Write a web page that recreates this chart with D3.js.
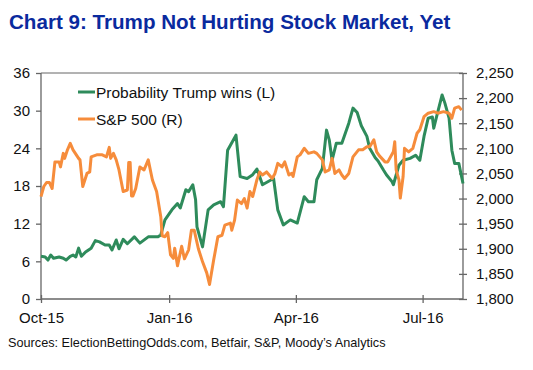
<!DOCTYPE html>
<html><head><meta charset="utf-8">
<script src="https://cdn.jsdelivr.net/npm/d3@7"></script>
<style>body{margin:0;background:#fff;} svg{display:block;font-family:Arial,"Liberation Sans",sans-serif;}</style>
</head><body>
<svg id="c" width="533" height="370"></svg>
<script>
const trumpDates = ["2015-10-01","2015-10-04","2015-10-06","2015-10-08","2015-10-10","2015-10-14","2015-10-17","2015-10-19","2015-10-22","2015-10-24","2015-10-26","2015-10-28","2015-10-30","2015-11-02","2015-11-06","2015-11-09","2015-11-12","2015-11-16","2015-11-19","2015-11-21","2015-11-24","2015-11-26","2015-11-29","2015-12-02","2015-12-07","2015-12-11","2015-12-17","2015-12-24","2015-12-26","2015-12-29","2016-01-03","2016-01-07","2016-01-09","2016-01-13","2016-01-15","2016-01-18","2016-01-20","2016-01-21","2016-01-25","2016-01-29","2016-02-02","2016-02-07","2016-02-09","2016-02-12","2016-02-14","2016-02-18","2016-02-21","2016-02-26","2016-03-01","2016-03-04","2016-03-06","2016-03-08","2016-03-16","2016-03-19","2016-03-23","2016-03-28","2016-04-02","2016-04-07","2016-04-10","2016-04-14","2016-04-16","2016-04-20","2016-04-23","2016-04-25","2016-04-27","2016-04-30","2016-05-04","2016-05-09","2016-05-12","2016-05-15","2016-05-18","2016-05-22","2016-05-24","2016-05-28","2016-05-30","2016-06-03","2016-06-05","2016-06-09","2016-06-10","2016-06-14","2016-06-17","2016-06-22","2016-06-26","2016-06-29","2016-07-02","2016-07-05","2016-07-08","2016-07-09","2016-07-11","2016-07-15","2016-07-17","2016-07-20","2016-07-22","2016-07-24","2016-07-27","2016-07-30"];
const trumpProb = [6.8,6.7,6.2,7.0,6.5,6.7,6.5,6.2,6.8,7.0,6.7,8.1,6.8,7.5,8.1,9.3,9.1,8.6,8.6,7.8,9.4,8.0,9.5,8.8,9.9,8.9,9.9,9.9,10.2,12.6,14.2,15.2,14.5,17.4,17.1,18.2,15.8,11.5,8.3,14.2,15.0,15.5,14.7,23.7,24.5,26.1,19.5,19.2,19.8,20.7,19.5,18.2,19.2,14.2,11.8,12.6,12.1,16.3,15.5,15.5,19.0,20.8,26.9,25.3,22.1,24.8,24.8,28.0,30.4,29.7,27.6,25.9,24.0,22.5,22.0,20.5,19.8,18.7,18.2,21.3,22.1,22.4,22.9,22.1,25.9,28.8,29.0,27.2,29.0,32.5,31.2,28.8,23.7,21.6,21.6,18.4];

const spxDates = ["2015-10-01","2015-10-03","2015-10-05","2015-10-07","2015-10-09","2015-10-11","2015-10-14","2015-10-15","2015-10-17","2015-10-18","2015-10-20","2015-10-22","2015-10-24","2015-10-28","2015-10-29","2015-10-31","2015-11-03","2015-11-05","2015-11-06","2015-11-10","2015-11-14","2015-11-17","2015-11-19","2015-11-20","2015-11-22","2015-11-24","2015-11-26","2015-11-29","2015-12-02","2015-12-03","2015-12-04","2015-12-05","2015-12-06","2015-12-08","2015-12-11","2015-12-14","2015-12-17","2015-12-20","2015-12-23","2015-12-26","2015-12-27","2015-12-29","2015-12-31","2016-01-02","2016-01-04","2016-01-05","2016-01-07","2016-01-10","2016-01-12","2016-01-15","2016-01-17","2016-01-19","2016-01-22","2016-01-25","2016-01-28","2016-01-30","2016-02-02","2016-02-05","2016-02-08","2016-02-10","2016-02-14","2016-02-15","2016-02-17","2016-02-19","2016-02-22","2016-02-24","2016-02-26","2016-02-28","2016-03-01","2016-03-04","2016-03-06","2016-03-08","2016-03-11","2016-03-15","2016-03-17","2016-03-19","2016-03-22","2016-03-24","2016-03-27","2016-03-29","2016-03-30","2016-04-02","2016-04-04","2016-04-07","2016-04-10","2016-04-14","2016-04-16","2016-04-20","2016-04-22","2016-04-25","2016-04-27","2016-04-29","2016-05-02","2016-05-04","2016-05-06","2016-05-09","2016-05-12","2016-05-16","2016-05-19","2016-05-22","2016-05-24","2016-05-27","2016-05-29","2016-05-31","2016-06-04","2016-06-06","2016-06-10","2016-06-11","2016-06-12","2016-06-14","2016-06-15","2016-06-17","2016-06-18","2016-06-21","2016-06-24","2016-06-27","2016-06-29","2016-07-02","2016-07-05","2016-07-09","2016-07-12","2016-07-16","2016-07-20","2016-07-22","2016-07-24","2016-07-27","2016-07-29"];
const spxValues = [2004,2024,2032,2032,2020,2073,2073,2063,2090,2080,2097,2110,2097,2080,2077,2024,2050,2053,2083,2087,2087,2083,2102,2080,2090,2077,2057,2014,2017,2072,2072,2005,2005,2020,2063,2057,2077,2037,2014,1964,1926,1924,1932,1888,1881,1901,1866,1905,1880,1898,1937,1937,1900,1874,1852,1829,1878,1924,1927,1947,1951,1937,1957,1997,1990,2000,1981,2014,2004,2037,2053,2047,2053,2040,2050,2070,2063,2073,2047,2050,2044,2083,2087,2100,2090,2093,2090,2077,2053,2057,2080,2050,2057,2047,2040,2050,2083,2097,2097,2103,2103,2117,2093,2085,2073,2073,2093,2113,2057,2037,2001,2044,2100,2093,2100,2130,2137,2163,2170,2173,2170,2173,2170,2160,2180,2183,2176];

const leftTicks = [0,6,12,18,24,30,36];
const rightTicks = [1800,1850,1900,1950,2000,2050,2100,2150,2200,2250];
const xTickDates = ["2015-10-01","2016-01-01","2016-04-01","2016-07-01"];
const xTickLabels = ["Oct-15","Jan-16","Apr-16","Jul-16"];
const seriesNames = ["Probability Trump wins (L)","S&P 500 (R)"];

const parse = d3.timeParse("%Y-%m-%d");
const C_GREEN = "#2e8b5b", C_ORANGE = "#f68c3b", AX = "#666";
const L = 41, R = 463, T = 73, B = 299;

const svg = d3.select("#c");
const x = d3.scaleTime().domain([parse("2015-10-01"), parse("2016-07-30")]).range([L, R]);
const yL = d3.scaleLinear().domain([0, 36]).range([B, T]);
const yR = d3.scaleLinear().domain([1800, 2250]).range([B, T]);

svg.append("text").attr("x", 9).attr("y", 29).attr("fill", "#0a2a9e")
  .attr("font-size", 20.6).attr("font-weight", "bold")
  .text("Chart 9: Trump Not Hurting Stock Market, Yet");

// frame top line
svg.append("line").attr("x1", L).attr("x2", R).attr("y1", T).attr("y2", T).attr("stroke", AX).attr("stroke-width", 1);

const gL = svg.append("g").attr("transform", `translate(${L},0)`)
  .call(d3.axisLeft(yL).tickValues(leftTicks).tickSize(5).tickPadding(6).tickFormat(d3.format("d")));
const gR = svg.append("g").attr("transform", `translate(${R},0)`)
  .call(d3.axisRight(yR).tickValues(rightTicks).tickSize(4).tickPadding(9).tickFormat(d3.format(",")));
gR.selectAll(".tick line").attr("x1", -4);
const gX = svg.append("g").attr("transform", `translate(0,${B})`)
  .call(d3.axisBottom(x).tickValues(xTickDates.map(parse)).tickSize(4).tickPadding(9)
    .tickFormat((d, i) => xTickLabels[i]));
gX.selectAll(".tick line").attr("y1", -4);

[gL, gR, gX].forEach(g => {
  g.select(".domain").attr("stroke", AX).attr("stroke-width", 1.3);
  g.selectAll(".tick line").attr("stroke", AX).attr("stroke-width", 1.3);
  g.selectAll(".tick text").attr("fill", "#111").attr("font-size", 15)
    .attr("font-family", "Arial, 'Liberation Sans', sans-serif");
});
gR.select(".domain").attr("d", `M0,${T}V${B}`);
gL.select(".domain").attr("d", `M0,${T}V${B}`);
gX.select(".domain").attr("d", `M${L},0H${R}`);

const trump = trumpDates.map((d, i) => ({ d: parse(d), v: trumpProb[i] }));
const spx = spxDates.map((d, i) => ({ d: parse(d), v: spxValues[i] }));

svg.append("path").datum(trump).attr("fill", "none").attr("stroke", C_GREEN).attr("stroke-width", 3)
  .attr("stroke-linejoin", "round")
  .attr("d", d3.line().x(p => x(p.d)).y(p => yL(p.v)));
svg.append("path").datum(spx).attr("fill", "none").attr("stroke", C_ORANGE).attr("stroke-width", 3)
  .attr("stroke-linejoin", "round")
  .attr("d", d3.line().x(p => x(p.d)).y(p => yR(p.v)));

// legend
const leg = [{ c: C_GREEN, y: 92 }, { c: C_ORANGE, y: 119 }];
leg.forEach((l, i) => {
  svg.append("line").attr("x1", 78).attr("x2", 95).attr("y1", l.y).attr("y2", l.y)
    .attr("stroke", l.c).attr("stroke-width", 3);
  svg.append("text").attr("x", 96).attr("y", l.y + 5.5).attr("font-size", 15.5).attr("fill", "#111")
    .text(seriesNames[i]);
});

svg.append("text").attr("x", 8).attr("y", 347).attr("font-size", 12.7).attr("fill", "#111")
  .text("Sources: ElectionBettingOdds.com, Betfair, S&P, Moody\u2019s Analytics");
</script>
</body></html>
